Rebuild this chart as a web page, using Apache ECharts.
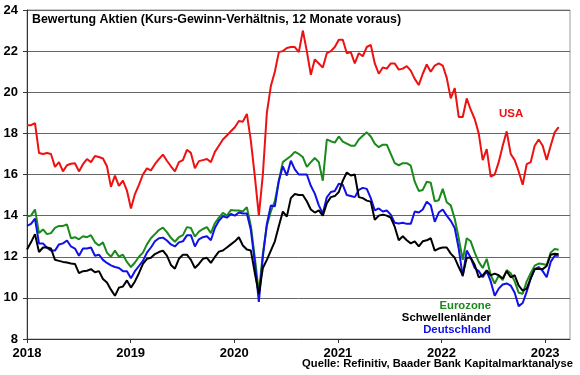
<!DOCTYPE html>
<html>
<head>
<meta charset="utf-8">
<script src="https://cdn.jsdelivr.net/npm/echarts@6/dist/echarts.min.js"></script>
<style>
  html, body { margin: 0; padding: 0; background: #fff; }
  #chart { width: 580px; height: 375px; }
</style>
</head>
<body>
<div id="chart"></div>
<script>
// KGV (12 Monate voraus), Werte alle zwei Wochen ab Anfang 2018
const usa = [
  18.4, 18.4, 18.5, 17.05, 17.0, 17.05, 17.0, 16.37, 16.6, 16.15,
  16.45, 16.52, 16.55, 16.15, 16.5, 16.75, 16.6, 16.9, 16.85, 16.78,
  16.4, 15.4, 15.95, 15.45, 15.7, 15.22, 14.35, 15.05, 15.5, 16.0,
  16.3, 16.2, 16.5, 16.75, 16.97, 16.67, 16.4, 16.15, 16.6, 16.7,
  17.2, 17.05, 16.3, 16.65, 16.7, 16.75, 16.6, 17.1, 17.4, 17.7,
  17.9, 18.1, 18.3, 18.6, 18.57, 18.95, 17.64, 15.9, 14.0, 16.0,
  19.0, 20.3, 21.0, 21.95, 22.0, 22.15, 22.2, 22.2, 21.95, 23.0,
  22.0, 20.85, 21.6, 21.4, 21.2, 21.9, 22.0, 22.2, 22.55, 22.55,
  21.9, 21.95, 21.4, 21.9, 21.75, 22.2, 22.3, 21.4, 20.9, 21.2,
  21.15, 21.4, 21.4, 21.1, 21.15, 21.27, 21.05, 20.65, 20.35, 20.9,
  21.35, 21.0, 21.3, 21.4, 21.3, 20.7, 19.7, 20.2, 18.8, 18.8,
  19.7, 19.15, 18.7, 18.0, 16.7, 17.23, 15.9, 16.0, 16.6, 17.4,
  18.1, 17.0, 16.7, 16.15, 15.5, 16.5, 16.6, 17.4, 17.7, 17.4,
  16.7, 17.4, 18.05, 18.3
]
const eurozone = [
  13.95, 14.0, 14.3, 13.15, 13.33, 13.1, 13.15, 13.4, 13.5, 13.5,
  13.57, 12.9, 12.95, 12.85, 13.0, 12.95, 13.05, 12.7, 12.55, 12.7,
  12.2, 12.0, 12.3, 12.0, 12.1, 11.75, 11.5, 11.72, 12.0, 12.2,
  12.6, 12.9, 13.1, 13.3, 13.42, 13.2, 12.92, 12.73, 12.95, 13.05,
  13.44, 13.4, 12.98, 13.22, 13.35, 13.44, 13.15, 13.63, 13.9, 14.13,
  14.0, 14.27, 14.25, 14.25, 14.2, 14.41, 13.5, 11.95, 10.25, 12.15,
  13.5, 14.2, 14.7, 15.7, 16.6, 16.75, 16.9, 17.1, 17.0, 16.85,
  16.37, 16.6, 16.8, 16.6, 15.7, 17.7, 17.62, 17.55, 17.85, 17.6,
  17.5, 17.4, 17.4, 17.7, 17.88, 18.05, 17.85, 17.5, 17.33, 17.45,
  17.45, 17.0, 16.55, 16.45, 16.55, 16.55, 16.43, 15.65, 15.2, 15.25,
  15.65, 15.6, 14.7, 14.75, 15.3, 14.65, 14.5, 13.85, 12.9, 11.85,
  12.9, 12.75, 12.2, 11.75, 11.45, 11.9, 11.1, 10.7, 11.08, 10.86,
  11.35, 11.2, 10.8, 10.25, 10.2, 10.8, 11.2, 11.57, 11.67, 11.65,
  11.6, 12.2, 12.38, 12.34
]
const schwellenlaender = [
  12.35, 12.7, 13.1, 12.23, 12.45, 12.45, 12.4, 11.85, 11.8, 11.75,
  11.72, 11.67, 11.65, 11.2, 11.3, 11.32, 11.4, 11.25, 11.3, 10.92,
  10.75, 10.4, 10.1, 10.5, 10.55, 10.85, 10.5, 10.8, 11.2, 11.65,
  11.9, 11.95, 12.13, 12.23, 12.3, 12.05, 11.6, 11.42, 11.9, 12.1,
  12.1, 11.85, 11.45, 11.65, 11.9, 11.95, 11.7, 11.99, 12.25, 12.3,
  12.45, 12.6, 12.75, 12.95, 12.55, 12.35, 12.3, 11.2, 10.2, 11.45,
  11.85, 12.3, 12.75, 13.5, 14.2, 13.95, 14.85, 15.05, 15.0, 15.0,
  14.7, 14.3, 14.15, 14.25, 14.0, 14.6, 14.9, 14.95, 15.15, 15.7,
  16.1, 15.95, 16.0, 14.9, 14.85, 14.73, 14.68, 13.8, 14.0, 14.05,
  14.0, 13.9, 13.45, 12.8, 13.0, 12.8, 12.65, 12.75, 12.5, 12.75,
  12.8, 12.9, 12.3, 12.4, 12.45, 12.45, 12.15, 11.95, 11.5, 11.1,
  11.95, 11.95, 11.6, 11.0, 11.1, 11.34, 11.1, 11.18, 11.1, 10.94,
  11.3, 11.0, 11.1, 10.6, 10.35, 10.45, 10.95, 11.4, 11.4, 11.4,
  11.55, 12.1, 12.15, 12.12
]
const deutschland = [
  13.5, 13.6, 13.85, 12.65, 12.65, 12.44, 12.3, 12.3, 12.6, 12.65,
  12.79, 12.5, 12.4, 12.05, 12.4, 12.4, 12.45, 12.05, 12.1, 11.85,
  11.7, 11.58, 11.5, 11.45, 11.3, 11.3, 10.95, 11.3, 11.55, 11.8,
  12.2, 12.45, 12.75, 12.9, 12.93, 12.79, 12.6, 12.5, 12.7, 12.75,
  13.04, 13.05, 12.5, 12.85, 12.95, 13.0, 12.8, 13.4, 13.75, 13.97,
  13.9, 14.08, 14.0, 14.15, 14.1, 14.1, 13.3, 11.7, 9.8, 11.99,
  13.6, 14.5, 14.45, 15.7, 16.4, 15.95, 16.67, 16.25, 16.0, 16.0,
  16.0, 15.45, 15.07, 14.5, 14.1, 14.89, 15.15, 15.2, 15.55, 15.5,
  15.0, 14.95, 14.9, 15.25, 15.35, 15.3, 14.85, 14.25, 14.35, 14.2,
  14.25, 14.05, 13.65, 13.62, 13.65, 13.6, 13.6, 14.2, 14.15, 14.3,
  14.68, 14.5, 13.7, 14.15, 14.3, 14.0, 13.75, 13.4, 12.4, 11.05,
  12.3, 11.95, 11.45, 11.3, 11.0, 11.3, 10.8, 10.1, 10.45, 10.65,
  10.7, 10.6, 10.25, 9.6, 9.75, 10.3, 10.95, 11.4, 11.5, 11.3,
  11.0, 11.75, 12.05, 12.05
]
const yMin = 8
const yMax = 24
const xMin = 2018
const xMax = 2023.24
const startYear = 2018
const stepYears = 14.09 / 365.25 // zwei Wochen

const font = '"Liberation Sans", Arial, sans-serif'

function toPoints(list) {
  return list.map((v, i) => [startYear + i * stepYears, v])
}

function makeLine(name, list, color) {
  return {
    name: name,
    type: 'line',
    data: toPoints(list),
    showSymbol: false,
    smooth: false,
    lineStyle: { color: color, width: 2 },
    itemStyle: { color: color },
    animation: false
  }
}

const chart = echarts.init(document.getElementById('chart'), null, { renderer: 'canvas' })

const option = {
  backgroundColor: '#fff',
  textStyle: { fontFamily: font },
  grid: {
    left: 27,
    right: 10,
    top: 10,
    bottom: 36,
    show: true,
    borderColor: '#9a9a9a',
    borderWidth: 1
  },
  xAxis: {
    type: 'value',
    min: xMin,
    max: xMax,
    interval: 1,
    axisLine: { show: true, onZero: false, lineStyle: { color: '#333', width: 1 } },
    axisTick: { show: true, length: 4, lineStyle: { color: '#333' } },
    splitLine: { show: false },
    axisLabel: {
      showMaxLabel: false,
      margin: 8,
      color: '#000',
      fontWeight: 'bold',
      fontSize: 13,
      fontFamily: font,
      formatter: (v) => (Number.isInteger(v) ? String(v) : '')
    }
  },
  yAxis: {
    type: 'value',
    min: yMin,
    max: yMax,
    interval: 2,
    axisLine: { show: true, lineStyle: { color: '#333', width: 1 } },
    axisTick: { show: true, length: 4, lineStyle: { color: '#333' } },
    splitLine: { show: true, lineStyle: { color: '#666', width: 1 } },
    axisLabel: {
      margin: 9,
      color: '#000',
      fontWeight: 'bold',
      fontSize: 13,
      fontFamily: font
    }
  },
  series: [
    makeLine('Eurozone', eurozone, '#1a8a1a'),
    makeLine('Deutschland', deutschland, '#1010e8'),
    makeLine('Schwellenländer', schwellenlaender, '#000000'),
    makeLine('USA', usa, '#ee1111')
  ],
  graphic: [
    {
      type: 'text', left: 32, top: 14, z: 51,
      style: { text: 'Bewertung Aktien (Kurs-Gewinn-Verhältnis, 12 Monate voraus)', font: 'bold 12.4px ' + font, fill: '#000' }
    },
    {
      type: 'text', left: 499, top: 108, z: 51,
      style: { text: 'USA', font: 'bold 11.5px ' + font, fill: '#ee1111' }
    },
    {
      type: 'text', right: 89, top: 300, z: 51,
      style: { text: 'Eurozone', font: 'bold 11.3px ' + font, fill: '#1a8a1a' }
    },
    {
      type: 'text', right: 89, top: 312, z: 51,
      style: { text: 'Schwellenländer', font: 'bold 11.3px ' + font, fill: '#000' }
    },
    {
      type: 'text', right: 89, top: 324, z: 51,
      style: { text: 'Deutschland', font: 'bold 11.3px ' + font, fill: '#1010e8' }
    },
    {
      type: 'text', right: 7, top: 358, z: 51,
      style: { text: 'Quelle: Refinitiv, Baader Bank Kapitalmarktanalyse', font: 'bold 11.2px ' + font, fill: '#000' }
    }
  ]
}

chart.setOption(option)
</script>
</body>
</html>
